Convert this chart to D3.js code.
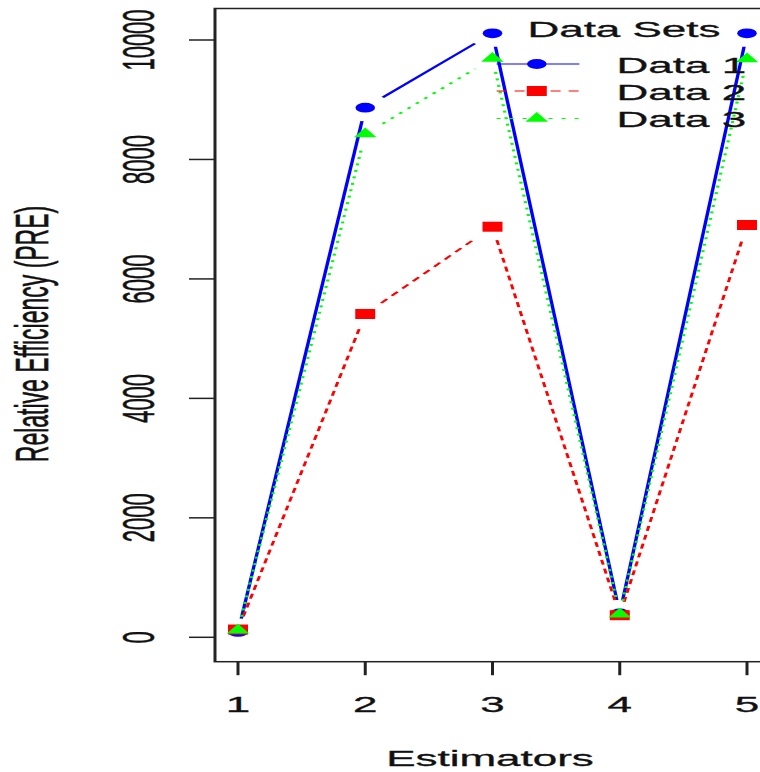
<!DOCTYPE html>
<html>
<head>
<meta charset="utf-8">
<script src="https://cdn.jsdelivr.net/npm/d3@7"></script>
<style>
  body { margin: 0; background: #fff; }
  svg { display: block; }
  text { font-family: "Liberation Sans", Arial, sans-serif; fill: #111; stroke: #111; stroke-width: 0.3; }
</style>
</head>
<body>
<svg id="canvas" width="760" height="772"></svg>
<script>
let estimators = [1, 2, 3, 4, 5]
let data1 = [90, 8867, 10112, 400, 10112]
let data2 = [130, 5413, 6874, 370, 6903]
let data3 = [120, 8426, 9690, 385, 9682]
let yTicks = [0, 2000, 4000, 6000, 8000, 10000]
let seriesNames = ["Data 1", "Data 2", "Data 3"]
let seriesColors = ["#0000ff", "#ff0000", "#00ff00"]
let seriesDash = [null, "5,4", "2,4.5"]
let seriesWidth = [1.7, 1.5, 1.6]
let seriesSymbols = [d3.symbolCircle, d3.symbolSquare, d3.symbolTriangle]
let symbolSizes = [75, 100, 55]

let series = [data1, data2, data3]

let canvas = d3.select('#canvas')
// whole plot is stretched 2x horizontally, like the original picture
let root = canvas.append('g').attr('transform', 'scale(2,1)')

let box = {left: 107.5, top: 8.5, right: 383, bottom: 661.7}

let x = d3.scaleLinear().domain([1, 5]).range([119, 373.5])
let y = d3.scaleLinear().domain([0, 10000]).range([637.3, 40])

root.append('rect')
  .attr('x', box.left).attr('y', box.top)
  .attr('width', box.right - box.left).attr('height', box.bottom - box.top)
  .attr('fill', 'none').attr('stroke', '#222').attr('stroke-width', 1.5)

// x axis ticks
root.append('g').selectAll('line')
  .data(estimators).enter().append('line')
  .attr('x1', d => x(d)).attr('x2', d => x(d))
  .attr('y1', box.bottom).attr('y2', box.bottom + 13.5)
  .attr('stroke', '#222').attr('stroke-width', 1.5)

root.append('g').selectAll('text')
  .data(estimators).enter().append('text')
  .attr('x', d => x(d)).attr('y', 712)
  .attr('text-anchor', 'middle').style('font-size', '22px')
  .text(d => d)

// y axis ticks
root.append('g').selectAll('line')
  .data(yTicks).enter().append('line')
  .attr('x1', box.left - 13).attr('x2', box.left)
  .attr('y1', d => y(d)).attr('y2', d => y(d))
  .attr('stroke', '#222').attr('stroke-width', 1.5)

root.append('g').selectAll('text')
  .data(yTicks).enter().append('text')
  .attr('transform', d => `translate(77,${y(d)}) rotate(-90)`)
  .attr('text-anchor', 'middle').style('font-size', '22px')
  .text(d => d)

root.append('text')
  .attr('x', 245).attr('y', 766)
  .attr('text-anchor', 'middle').style('font-size', '22px')
  .text('Estimators')

root.append('text')
  .attr('transform', 'translate(24.2,334) rotate(-90)')
  .attr('text-anchor', 'middle').style('font-size', '23px')
  .text('Relative Efficiency (PRE)')

// type = "b": segments stop short of the points
let gap = 13.5
let segments = (vals) => {
  let out = []
  for (let j = 0; j < vals.length - 1; j++) {
    let x0 = x(estimators[j]), y0 = y(vals[j])
    let x1 = x(estimators[j + 1]), y1 = y(vals[j + 1])
    let len = Math.hypot(x1 - x0, y1 - y0)
    if (len <= 2 * gap) continue
    let ux = (x1 - x0) / len, uy = (y1 - y0) / len
    out.push([x0 + ux * gap, y0 + uy * gap, x1 - ux * gap, y1 - uy * gap])
  }
  return out
}

series.forEach((vals, i) => {
  let g = root.append('g').attr('class', 'series')
  g.selectAll('line')
    .data(segments(vals)).enter().append('line')
    .attr('x1', d => d[0]).attr('y1', d => d[1])
    .attr('x2', d => d[2]).attr('y2', d => d[3])
    .attr('stroke', seriesColors[i]).attr('stroke-width', seriesWidth[i])
    .attr('stroke-dasharray', seriesDash[i])
  g.selectAll('path')
    .data(vals).enter().append('path')
    .attr('transform', (d, j) => `translate(${x(estimators[j])},${y(d)})`)
    .attr('d', d3.symbol().type(seriesSymbols[i]).size(symbolSizes[i]))
    .attr('fill', seriesColors[i])
})

// legend
let legend = root.append('g')
legend.append('text')
  .attr('x', 312).attr('y', 37)
  .attr('text-anchor', 'middle').style('font-size', '22px')
  .text('Data Sets')

let rowY = [64, 91, 118.5]
seriesNames.forEach((name, i) => {
  legend.append('line')
    .attr('x1', 248.3).attr('x2', 289.7)
    .attr('y1', rowY[i]).attr('y2', rowY[i])
    .attr('stroke', seriesColors[i]).attr('stroke-width', 1.2)
    .attr('stroke-dasharray', seriesDash[i])
  legend.append('path')
    .attr('transform', `translate(268.4,${rowY[i]})`)
    .attr('d', d3.symbol().type(seriesSymbols[i]).size(symbolSizes[i]))
    .attr('fill', seriesColors[i])
  legend.append('text')
    .attr('x', 308.3).attr('y', rowY[i] + 9)
    .style('font-size', '22px')
    .text(name)
})
</script>
</body>
</html>
